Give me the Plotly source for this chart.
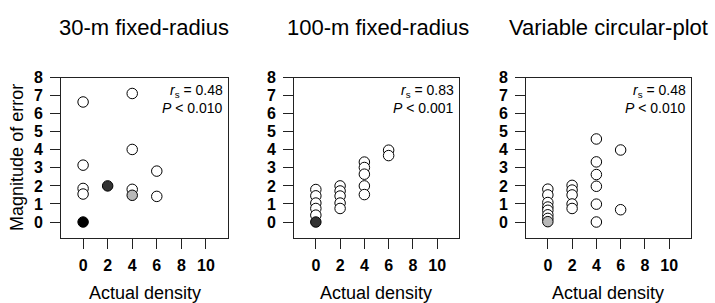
import plotly.graph_objects as go

# ---------------- data ----------------
panel_titles = ["30-m fixed-radius", "100-m fixed-radius", "Variable circular-plot"]
x_title = "Actual density"
y_title = "Magnitude of error"
x_ticks = [0, 2, 4, 6, 8, 10]
y_ticks = [0, 1, 2, 3, 4, 5, 6, 7, 8]

# 30-m fixed-radius
p1_density = [0, 0, 0, 0, 0, 2, 4, 4, 4, 4, 6, 6]
p1_error = [6.65, 3.15, 1.86, 1.55, 0.0, 2.0, 7.12, 4.02, 1.81, 1.48, 2.82, 1.42]
p1_overlap = [1, 1, 1, 1, 4, 3, 1, 1, 1, 2, 1, 1]

# 100-m fixed-radius
p2_density = [0, 0, 0, 0, 0, 0, 2, 2, 2, 2, 2, 4, 4, 4, 4, 4, 6, 6]
p2_error = [1.8, 1.45, 1.05, 0.75, 0.38, 0.0, 2.0, 1.72, 1.44, 1.05, 0.75,
            3.32, 3.02, 2.65, 2.0, 1.52, 3.98, 3.68]
p2_overlap = [1, 1, 1, 1, 1, 3, 1, 1, 1, 1, 1, 1, 1, 1, 1, 1, 1, 1]

# Variable circular-plot
p3_density = [0, 0, 0, 0, 0, 0, 0, 0, 2, 2, 2, 2, 2, 4, 4, 4, 4, 4, 4, 6, 6]
p3_error = [1.82, 1.5, 1.08, 0.83, 0.65, 0.4, 0.2, 0.02, 2.03, 1.77, 1.5, 1.0, 0.75,
            4.6, 3.33, 2.63, 1.98, 0.99, 0.0, 3.99, 0.68]
p3_overlap = [1, 1, 1, 1, 1, 1, 1, 2, 1, 1, 1, 1, 1, 1, 1, 1, 1, 1, 1, 1, 1]

rs_values = ["0.48", "0.83", "0.48"]
p_values = ["0.010", "0.001", "0.010"]

# ---------------- layout helpers ----------------
W, H = 715, 303
fill_map = {1: "white", 2: "#b8b8b8", 3: "#333333", 4: "black"}
FONT = "Liberation Sans, Arial"

panels = [
    (p1_density, p1_error, p1_overlap),
    (p2_density, p2_error, p2_overlap),
    (p3_density, p3_error, p3_overlap),
]
x_px = [(61, 228), (294, 459), (526, 691)]
title_cx = [143.5, 377.5, 608.5]
xtitle_cx = [144.5, 376, 608]
y_top_px, y_bot_px = 71.5, 236.5

fig = go.Figure()
annotations = []
for i, (xs, ys, ov) in enumerate(panels):
    n = "" if i == 0 else str(i + 1)
    fig.add_trace(go.Scatter(
        x=xs, y=ys, mode="markers",
        marker=dict(size=10.5, color=[fill_map[k] for k in ov],
                    line=dict(color="black", width=1)),
        xaxis="x" + n, yaxis="y" + n, showlegend=False, cliponaxis=False,
    ))
    x0, x1 = x_px[i]
    axis_common = dict(showgrid=False, zeroline=False, showline=True, mirror=True,
                       linecolor="#222", linewidth=1, ticks="outside", ticklen=10,
                       tickcolor="#222", tickwidth=1,
                       tickfont=dict(family=FONT, size=16, color="black", weight="bold"))
    fig.update_layout(**{
        "xaxis" + n: dict(domain=[x0 / W, x1 / W], range=[-1.8, 11.8],
                          tickvals=x_ticks, anchor="y" + n,
                          ticklabelstandoff=3, **axis_common),
        "yaxis" + n: dict(domain=[1 - y_bot_px / H, 1 - y_top_px / H],
                          range=[-0.9, 8], tickvals=y_ticks, anchor="x" + n,
                          ticklabelstandoff=4, **axis_common),
    })
    annotations.append(dict(text=panel_titles[i], x=title_cx[i] / W, y=1 - 20 / H,
                            xref="paper", yref="paper", showarrow=False,
                            xanchor="center", yanchor="middle",
                            font=dict(family=FONT, size=22, color="black")))
    annotations.append(dict(text=x_title, x=xtitle_cx[i] / W, y=1 - 293 / H,
                            xref="paper", yref="paper", showarrow=False,
                            xanchor="center", yanchor="middle",
                            font=dict(family=FONT, size=18, color="black")))
    annotations.append(dict(text="<i>r</i><sub>s</sub> = " + rs_values[i],
                            x=(x1 - 3) / W, y=1 - 85 / H,
                            xref="paper", yref="paper", showarrow=False,
                            xanchor="right", yanchor="middle",
                            font=dict(family=FONT, size=14, color="black")))
    annotations.append(dict(text="<i>P</i> &lt; " + p_values[i],
                            x=(x1 - 3) / W, y=1 - 103 / H,
                            xref="paper", yref="paper", showarrow=False,
                            xanchor="right", yanchor="middle",
                            font=dict(family=FONT, size=14, color="black")))

annotations.append(dict(text=y_title, x=17 / W, y=1 - 154 / H, xref="paper", yref="paper",
                        showarrow=False, textangle=-90, xanchor="center", yanchor="middle",
                        font=dict(family=FONT, size=18, color="black")))

fig.update_layout(width=W, height=H, margin=dict(l=0, r=0, t=0, b=0),
                  paper_bgcolor="white", plot_bgcolor="white",
                  annotations=annotations)

fig.write_html("out.html", config={"displayModeBar": False},
               post_script="document.body.style.margin='0';document.body.style.overflow='hidden';")
